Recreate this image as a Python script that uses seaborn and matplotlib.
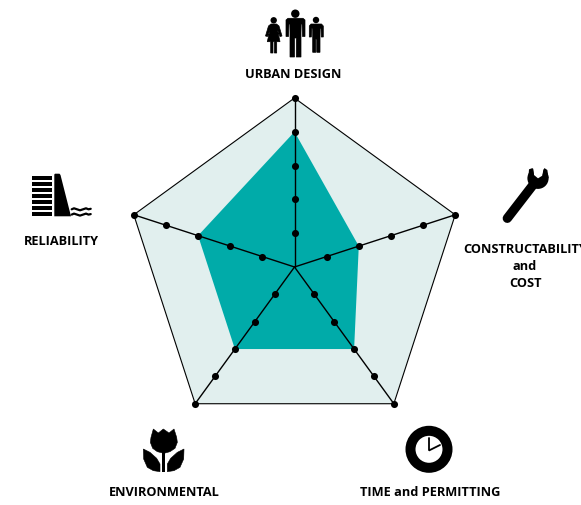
import numpy as np
import pandas as pd
import seaborn as sns
import matplotlib
matplotlib.use("Agg")
import matplotlib.pyplot as plt
from matplotlib.patches import Circle, Polygon, Rectangle

# Scores per criterion, clockwise from the top
categories = ["URBAN DESIGN", "CONSTRUCTABILITY\nand\nCOST", "TIME and PERMITTING",
              "ENVIRONMENTAL", "RELIABILITY"]
scores = [4, 2, 3, 3, 3]
levels = [1, 2, 3, 4, 5]
max_level = 5

TEAL = "#00ABA9"
PALE = "#E1EFEE"

sns.set_style("white")
plt.rcParams["font.family"] = ["Open Sans", "DejaVu Sans"]

W, H = 581, 506
fig = plt.figure(figsize=(W / 100, H / 100), dpi=100)

# Radar, centred on pixel (294.5, 268) with a 169 px radius
cx, cy, rad = 294.5, 268, 169
ax = fig.add_axes([(cx - rad) / W, (H - cy - rad) / H, 2 * rad / W, 2 * rad / H], polar=True)
ax.set_theta_zero_location("N")
ax.set_theta_direction(-1)

angles = np.deg2rad(np.arange(len(categories)) * 72.0)
closed = np.append(angles, angles[0])

ax.fill(closed, [max_level] * len(closed), color=PALE, lw=0, zorder=1)
ax.fill(closed, scores + scores[:1], color=TEAL, lw=0, zorder=2)
outline = pd.DataFrame({"theta": closed, "r": [max_level] * len(closed)})
sns.lineplot(data=outline, x="theta", y="r", sort=False, estimator=None, color="black",
             lw=0.8, ax=ax, zorder=3)
for a in angles:
    ax.plot([a, a], [0, max_level], color="black", lw=1.0, zorder=4, clip_on=False)

dots = pd.DataFrame([(a, l) for a in angles for l in levels], columns=["theta", "r"])
sns.scatterplot(data=dots, x="theta", y="r", color="black", s=26, linewidth=0, ax=ax,
                zorder=5, clip_on=False)
ax.set_ylim(0, max_level)
ax.set_axis_off()

# Overlay in image pixels for the icons and labels
ov = fig.add_axes([0, 0, 1, 1])
ov.set_xlim(0, W)
ov.set_ylim(H, 0)
ov.set_axis_off()
ov.patch.set_alpha(0)

# the long label runs off the right edge in the original too
label_pos = [(293.5, 74.5), (525, 283.5), (430.5, 492.5), (164, 492.5), (61, 241.5)]
for name, (x, y) in zip(categories, label_pos):
    lines = name.split("\n")
    for i, line in enumerate(lines):
        ov.text(x, y - (len(lines) - 1 - i) * 17, line, ha="center", va="center",
                fontsize=9.2, fontweight="bold", color="black", clip_on=True)


def poly(points, ox=0, oy=0, scale=1.0, color="black", edge=0.0):
    pts = [(ox + px / scale, oy + py / scale) for px, py in points]
    ov.add_patch(Polygon(pts, closed=True, facecolor=color, edgecolor=color, lw=edge))


# People
ov.add_patch(Circle((295.3, 14.7), 4.2, color="black", lw=0))
poly([(286, 21), (288, 19.3), (303, 19.3), (305, 21), (305, 37.5), (302.5, 37.5), (302, 25),
      (301, 25), (301, 58), (296.3, 58), (296.3, 39), (294.5, 39), (294.5, 58), (290, 58),
      (290, 25), (289, 25), (288.5, 37.5), (286, 37.5)], edge=0.5)
ov.add_patch(Circle((273.7, 21.3), 3.2, color="black", lw=0))
poly([(271, 25), (276.5, 25), (279, 27), (282, 37), (280, 37.5), (277.5, 31), (280, 42.7),
      (276.7, 42.7), (276.7, 54), (274.4, 54), (274.4, 42.7), (273, 42.7), (273, 54),
      (270.7, 54), (270.7, 42.7), (267.3, 42.7), (270, 31), (267.5, 37.5), (265.5, 37),
      (268.5, 27)], edge=0.5)
ov.add_patch(Circle((316, 21), 3.2, color="black", lw=0))
poly([(309.3, 27), (311, 25), (321.5, 25), (323.3, 27), (323.3, 38), (321.3, 38), (321, 29.5),
      (320, 29.5), (320, 53.3), (316.8, 53.3), (316.8, 40), (315.8, 40), (315.8, 53.3),
      (312.7, 53.3), (312.7, 29.5), (311.8, 29.5), (311.3, 38), (309.3, 38)], edge=0.5)

# Dam
for top in [177.3, 183.3, 189.3, 195.3, 201.3, 207.3, 213.3]:
    ov.add_patch(Rectangle((32, top), 20.3, 4.1, color="black", lw=0))
poly([(54.3, 175.5), (55, 174.7), (59.5, 174.7), (60.5, 176), (71, 217.3), (54.3, 217.3)])
wave_x = [71.7, 74, 77, 80, 83, 86, 88.5, 90.7]
for base, wob in [(210.3, 1), (215.6, 1)]:
    wave_y = [base, base - wob, base, base + wob, base, base - wob, base, base - wob * 0.5]
    ov.plot(wave_x, wave_y, color="black", lw=1.6)

# Wrench: round head with the jaw cut out in white, then the two jaw tips
ov.plot([507.3, 533], [219.3, 186], color="black", lw=6.7, solid_capstyle="round")
ov.add_patch(Circle((538, 179.3), 10.6, color="black", lw=0))
poly([(248, 15), (252, 48), (264, 58), (277, 50), (283, 15)], 450, 160, 3, color="white")
poly([(237, 31), (248, 27), (252, 48), (235, 58)], 450, 160, 3)
poly([(283, 27), (292, 33), (296, 58), (277, 50)], 450, 160, 3)

# Tulip
poly([(160, 30), (175, 42), (190, 30), (207, 42), (222, 30), (230, 55), (232, 70), (225, 88),
      (210, 98), (192, 103), (172, 98), (158, 88), (151, 70), (153, 55)], 100, 420, 3, edge=0.4)
poly([(130, 90), (150, 100), (170, 118), (180, 135), (180, 158), (160, 155), (142, 145), (131, 120)],
     100, 420, 3, edge=0.4)
poly([(252, 90), (232, 100), (212, 118), (202, 135), (202, 158), (222, 155), (240, 145), (251, 120)],
     100, 420, 3, edge=0.4)
ov.add_patch(Rectangle((162, 450), 3.4, 22.5, color="black", lw=0))

# Clock
ov.add_patch(Circle((429, 450.3), 18.5, facecolor="none", edgecolor="black", lw=7.2))
ov.plot([429, 429, 440], [439, 451.5, 446], color="black", lw=1.3, solid_joinstyle="miter")

fig.savefig("out.png", dpi=100, facecolor="white")
